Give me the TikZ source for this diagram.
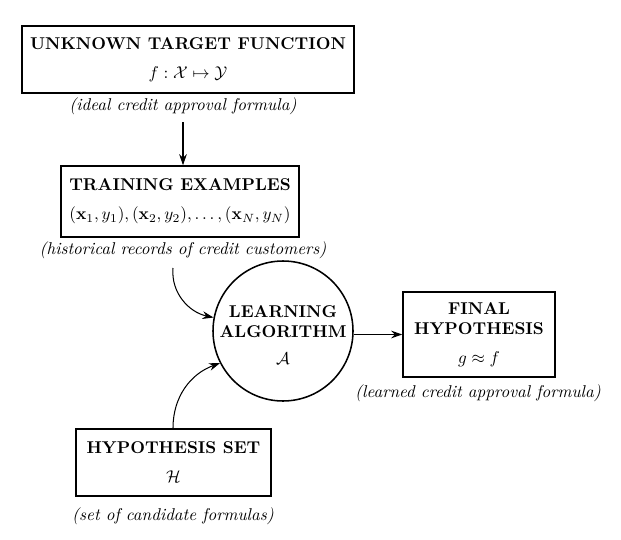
\documentclass[tikz,border=0pt]{standalone}
\usepackage{amsmath,amssymb}
\usetikzlibrary{arrows.meta}
\begin{document}
\begin{tikzpicture}[x=0.585pt,y=-0.585pt,
  box/.style={draw,line width=0.9pt,align=center,inner sep=0pt,font=\bfseries},
  lab/.style={font=\itshape,inner sep=0pt},
  arr/.style={line width=0.6pt,-{Stealth[length=6.5pt,width=4.5pt]}}]
\useasboundingbox (0,0) rectangle (621,539);
\node[box,minimum width=332*0.585pt,minimum height=67*0.585pt] (target) at (188,59.5)
  {UNKNOWN TARGET FUNCTION\\[5pt] \mdseries $f:\mathcal{X}\mapsto\mathcal{Y}$};
\node[lab] (tlab) at (183,106) {(ideal credit approval formula)};
\node[box,minimum width=238*0.585pt,minimum height=71*0.585pt] (train) at (180,201.5)
  {TRAINING EXAMPLES\\[5pt] \mdseries $(\mathbf{x}_1,y_1),(\mathbf{x}_2,y_2),\ldots,(\mathbf{x}_N,y_N)$};
\node[lab] (trlab) at (183,250) {(historical records of credit customers)};
\node[draw,circle,line width=0.9pt,minimum size=140*0.585pt,inner sep=0pt] (alg) at (283,331) {};
\node[align=center,inner sep=0pt,font=\bfseries] (algtxt) at (283,335)
  {LEARNING\\ALGORITHM\\[4pt] \mdseries $\mathcal{A}$};
\node[box,minimum width=152*0.585pt,minimum height=85*0.585pt] (final) at (479,334.5)
  {FINAL\\HYPOTHESIS\\[5pt] \mdseries $g\approx f$};
\node[lab] (flab) at (478,393) {(learned credit approval formula)};
\node[box,minimum width=195*0.585pt,minimum height=67*0.585pt] (hyp) at (173.5,462.5)
  {HYPOTHESIS SET\\[5pt] \mdseries $\mathcal{H}$};
\node[lab] (hlab) at (173,516) {(set of candidate formulas)};
\coordinate (a0) at (183,122);
\coordinate (c1) at (173,268);
\coordinate (c2) at (173,428);
\draw[arr] (a0) -- (a0 |- train.north);
\draw[arr] (c1) to[out=-95,in=168] (alg.169);
\draw[arr] (c2) to[out=90,in=200] (alg.207);
\draw[arr] (alg.east |- final.west) -- (final.west);
\end{tikzpicture}
\end{document}
